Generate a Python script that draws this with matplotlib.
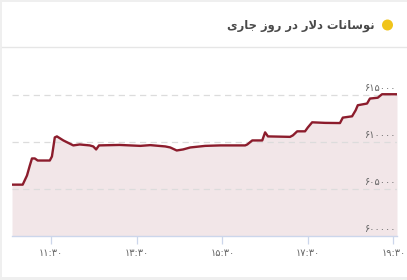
import matplotlib
matplotlib.use("Agg")
import matplotlib.pyplot as plt
import matplotlib.transforms as mtransforms
from matplotlib.patches import Rectangle, Ellipse
from matplotlib.lines import Line2D

# ---------------- data ----------------
times = ["10:35", "10:50", "10:56", "11:00", "11:03", "11:07", "11:11", "11:28",
         "11:31", "11:35", "11:38", "11:47", "12:01", "12:10", "12:24", "12:29",
         "12:33", "12:37", "13:06", "13:35", "13:49", "14:10", "14:17", "14:26",
         "14:35", "14:45", "15:06", "15:27", "16:02", "16:05", "16:12", "16:26",
         "16:30", "16:34", "17:05", "17:09", "17:15", "17:26", "17:30", "17:36",
         "17:54", "18:15", "18:19", "18:32", "18:37", "18:40", "18:53", "18:57",
         "19:08", "19:14", "19:35"]
values = [605470, 605470, 606440, 607510, 608260, 608260, 608040, 608040,
          608470, 610500, 610610, 610180, 609650, 609750, 609650, 609540,
          609220, 609650, 609700, 609600, 609680, 609540, 609430, 609110,
          609220, 609430, 609600, 609650, 609650, 609750, 610180, 610180,
          611040, 610610, 610560, 610720, 611150, 611150, 611570, 612110,
          612050, 612030, 612610, 612750, 613390, 613930, 614110, 614640,
          614730, 615100, 615100]
ytick_values = [600000, 605000, 610000, 615000]
ytick_labels = ["۶۰۰۰۰۰", "۶۰۵۰۰۰", "۶۱۰۰۰۰", "۶۱۵۰۰۰"]
xtick_times = ["11:30", "13:30", "15:30", "17:30", "19:30"]
xtick_labels = ["۱۱:۳۰", "۱۳:۳۰", "۱۵:۳۰", "۱۷:۳۰", "۱۹:۳۰"]
title = "نوسانات دلار در روز جاری"


# ---------------- minimal Arabic/Persian shaping ----------------
FORMS = {  # iso, fin, ini, med
    "ن": ("\uFEE5", "\uFEE6", "\uFEE7", "\uFEE8"),
    "و": ("\uFEED", "\uFEEE", None, None),
    "س": ("\uFEB1", "\uFEB2", "\uFEB3", "\uFEB4"),
    "ا": ("\uFE8D", "\uFE8E", None, None),
    "ت": ("\uFE95", "\uFE96", "\uFE97", "\uFE98"),
    "د": ("\uFEA9", "\uFEAA", None, None),
    "ل": ("\uFEDD", "\uFEDE", "\uFEDF", "\uFEE0"),
    "ر": ("\uFEAD", "\uFEAE", None, None),
    "ز": ("\uFEAF", "\uFEB0", None, None),
    "ج": ("\uFE9D", "\uFE9E", "\uFE9F", "\uFEA0"),
    "ی": ("\uFEEF", "\uFEF0", "\uFEF3", "\uFEF4"),
}


def dual(c):
    return c in FORMS and FORMS[c][2] is not None


def shape(text):
    out = []
    chars = list(text)
    i = 0
    n = len(chars)
    while i < n:
        c = chars[i]
        if c not in FORMS:
            out.append(c)
            i += 1
            continue
        prev = chars[i - 1] if i > 0 else None
        cp = prev is not None and dual(prev)
        if c == "ل" and i + 1 < n and chars[i + 1] == "ا":
            out.append("\uFEFC" if cp else "\uFEFB")
            i += 2
            continue
        nxt = chars[i + 1] if i + 1 < n else None
        cn = dual(c) and nxt is not None and nxt in FORMS
        iso, fin, ini, med = FORMS[c]
        if cp and cn:
            out.append(med)
        elif cp:
            out.append(fin)
        elif cn:
            out.append(ini)
        else:
            out.append(iso)
        i += 1
    return "".join(reversed(out))


def to_min(t):
    h, m = t.split(":")
    return int(h) * 60 + int(m)


x = [to_min(t) for t in times]
xt = [to_min(t) for t in xtick_times]

W, H = 407, 280
fig = plt.figure(figsize=(W / 100, H / 100), dpi=100)
fig.patch.set_facecolor("#efefef")

# card
fig.patches.append(Rectangle((2 / W, 3 / H), 1 - 2 / W, 1 - 5 / H, transform=fig.transFigure,
                             facecolor="white", edgecolor="none", zorder=-5))
fig.lines.append(Line2D([2 / W, 1], [1 - 47 / H, 1 - 47 / H], transform=fig.transFigure,
                        color="#e6e6e6", lw=1.0, zorder=-4))
# title + dot
fig.text(375 / W, 1 - 25 / H, shape(title), ha="right", va="center",
         fontsize=8.3, fontweight="bold", color="#4a4a4a", family=["DejaVu Sans"])
fig.patches.append(Ellipse((387.5 / W, 1 - 25 / H), 11 / W, 11 / H, transform=fig.transFigure,
                           facecolor="#f0c41b", edgecolor="none", zorder=3))

# plot area
left, right, top, bottom = 12, 397, 60, 236
ax = fig.add_axes([left / W, 1 - bottom / H, (right - left) / W, (bottom - top) / H])
ax.set_zorder(2)
ax.set_facecolor("none")
ymin = 600000
ymax = 615000 + (95 - top) * (5000 / 46.7)
ax.set_xlim(x[0], x[-1])
ax.set_ylim(ymin, ymax)

ax.fill_between(x, values, ymin, color="#f2e6e8", lw=0, zorder=1)
ax.plot(x, values, color="#8c1c2c", lw=1.7, zorder=3, solid_joinstyle="round",
        solid_capstyle="round")

for v in ytick_values[1:]:
    ax.axhline(v, color="#dcdcdc", lw=0.9, dashes=(5, 3.5), zorder=2)

offset = mtransforms.ScaledTranslation(-1 / 100, 2 / 100, fig.dpi_scale_trans)
trans = mtransforms.blended_transform_factory(ax.transAxes, ax.transData) + offset
for v, lab in zip(ytick_values, ytick_labels):
    ax.text(1.0, v, lab, transform=trans, ha="right", va="bottom",
            fontsize=7, color="#666666", zorder=4)

ax.set_yticks([])
for s in ["left", "right", "top"]:
    ax.spines[s].set_visible(False)
ax.spines["bottom"].set_color("#ccd6eb")
ax.spines["bottom"].set_linewidth(1.0)
ax.set_xticks(xt)
ax.set_xticklabels(xtick_labels)
ax.tick_params(axis="x", direction="out", length=6, width=0.9, color="#ccd6eb",
               labelsize=7, labelcolor="#666666", pad=3)

fig.savefig("out.png", dpi=100, facecolor=fig.get_facecolor())
